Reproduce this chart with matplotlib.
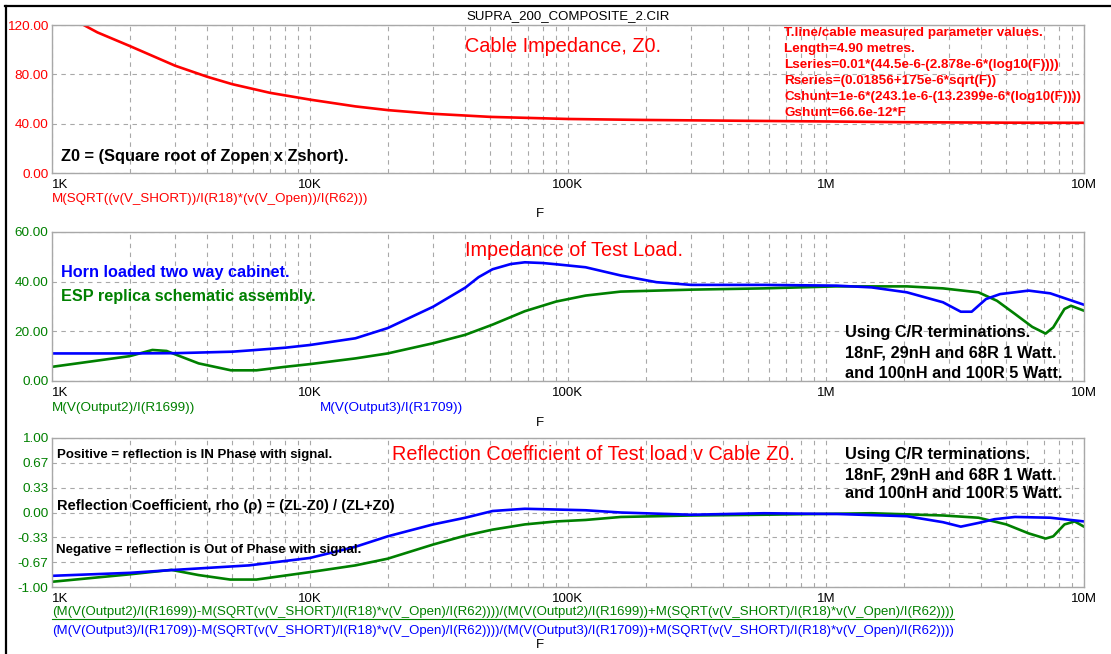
import matplotlib
matplotlib.use("Agg")
import matplotlib.pyplot as plt
from matplotlib.lines import Line2D

W, H = 1111, 654

# ---------------------------------------------------------------------
# values
# ---------------------------------------------------------------------
f_z0 = [1e3, 1.3e3, 1.5e3, 2e3, 3e3, 4e3, 5e3, 7e3, 10e3, 15e3, 20e3, 30e3,
        50e3, 100e3, 200e3, 500e3, 1e6, 2e6, 5e6, 10e6]
z0 = [132, 121, 114, 103, 87, 78, 72, 65, 59.5, 54, 51, 48,
      45.5, 43.8, 43.0, 42.3, 41.8, 41.2, 40.8, 40.7]

f_horn = [1e3, 2e3, 3e3, 5e3, 6e3, 8e3, 10e3, 15e3, 20e3, 30e3, 40e3, 45e3,
          51e3, 60e3, 68e3, 80e3, 90e3, 117e3, 160e3, 220e3, 300e3, 575e3,
          1.1e6, 1.5e6, 2.06e6, 2.84e6, 3.33e6, 3.67e6, 4.17e6, 4.73e6, 6.1e6,
          7.4e6, 10e6]
horn = [11.1, 11.1, 11.2, 11.8, 12.4, 13.4, 14.5, 17.2, 21.3, 29.9, 37.6, 41.8,
        45.0, 47.1, 47.8, 47.5, 47.0, 45.8, 42.5, 39.8, 38.7, 38.7,
        38.4, 37.7, 35.7, 31.7, 27.9, 27.9, 33.0, 35.0, 36.4,
        35.3, 30.7]

f_esp = [1e3, 2e3, 2.45e3, 2.78e3, 3.06e3, 3.7e3, 4.94e3, 6.2e3, 8e3, 10e3,
         15e3, 20e3, 30e3, 40e3, 51e3, 68e3, 90e3, 117e3, 160e3, 304e3, 575e3,
         1.09e6, 2.06e6, 2.84e6, 3.9e6, 4.6e6, 5.4e6, 6.3e6, 7.1e6, 7.6e6,
         8.4e6, 8.9e6, 10e6]
esp = [5.7, 10.0, 12.5, 12.1, 10.4, 7.1, 4.3, 4.3, 5.7, 6.8,
       9.1, 11.1, 15.2, 18.6, 22.7, 28.1, 32.0, 34.4, 36.0, 36.8, 37.3,
       38.1, 38.1, 37.3, 35.7, 32.3, 27.0, 21.8, 19.1, 21.6,
       29.0, 30.3, 28.3]

f_rho_horn = [1e3, 2e3, 3e3, 5.8e3, 10e3, 15e3, 20e3, 30e3, 40e3, 51e3, 68e3,
              90e3, 117e3, 160e3, 300e3, 575e3, 1.1e6, 2.06e6, 2.84e6, 3.33e6,
              3.9e6, 4.5e6, 5.4e6, 7.4e6, 10e6]
rho_horn = [-0.85, -0.81, -0.77, -0.71, -0.61, -0.46, -0.32, -0.16, -0.07, 0.02,
            0.05, 0.04, 0.03, 0.0, -0.03, -0.01, -0.02, -0.05, -0.13, -0.19,
            -0.14, -0.09, -0.06, -0.07, -0.12]

f_rho_esp = [1e3, 2e3, 2.9e3, 3.7e3, 4.9e3, 6.2e3, 10e3, 15e3, 20e3, 30e3,
             40e3, 51e3, 68e3, 90e3, 117e3, 160e3, 300e3, 575e3, 1.5e6, 2.84e6,
             3.9e6, 5e6, 6.1e6, 7.1e6, 7.6e6, 8.4e6, 9.2e6, 10e6]
rho_esp = [-0.93, -0.83, -0.77, -0.84, -0.90, -0.90, -0.80, -0.71, -0.62, -0.43,
           -0.31, -0.23, -0.16, -0.12, -0.10, -0.06, -0.04, -0.03, -0.01, -0.04,
           -0.07, -0.16, -0.28, -0.35, -0.32, -0.16, -0.12, -0.19]

x_ticks = [1e3, 1e4, 1e5, 1e6, 1e7]
x_labels = ["1K", "10K", "100K", "1M", "10M"]
y1_ticks = [0, 40, 80, 120]
y2_ticks = [0, 20, 40, 60]
y3_ticks = [-1, -2 / 3, -1 / 3, 0, 1 / 3, 2 / 3, 1]
y3_labels = ["-1.00", "-0.67", "-0.33", "0.00", "0.33", "0.67", "1.00"]

params = [
    "T.line/cable measured parameter values.",
    "Length=4.90 metres.",
    "Lseries=0.01*(44.5e-6-(2.878e-6*(log10(F))))",
    "Rseries=(0.01856+175e-6*sqrt(F))",
    "Cshunt=1e-6*(243.1e-6-(13.2399e-6*(log10(F))))",
    "Gshunt=66.6e-12*F",
]
terminations = [
    "Using C/R terminations.",
    "18nF, 29nH and 68R 1 Watt.",
    "and 100nH and 100R 5 Watt.",
]

RED = "#ff0000"
GREEN = "#008000"
BLUE = "#0000ff"
GRID = "#a8a8a8"

plt.rcParams["font.family"] = ["Liberation Sans", "DejaVu Sans"]

fig = plt.figure(figsize=(W / 100, H / 100), dpi=100)
fig.patch.set_facecolor("white")


def fx(x):
    return x / W


def fy(y):
    return 1 - y / H


def label(x, y, s, **kw):
    kw.setdefault("ha", "left")
    kw.setdefault("va", "center")
    return fig.text(fx(x), fy(y), s, **kw)


def make_axes(top, bottom, yticks, ylabels, ycol):
    ax = fig.add_axes([fx(52), fy(bottom), (1084 - 52) / W, (bottom - top) / H])
    ax.set_xscale("log")
    ax.set_xlim(1e3, 1e7)
    ax.set_ylim(yticks[0], yticks[-1])
    ax.set_xticks(x_ticks)
    ax.set_xticklabels(x_labels)
    ax.set_xticks([m * d for d in x_ticks[:-1] for m in range(2, 10)], minor=True)
    ax.set_yticks(yticks)
    ax.set_yticklabels(ylabels)
    ax.tick_params(which="both", length=0)
    ax.tick_params(axis="x", labelsize=9.5, pad=4, colors="black")
    ax.tick_params(axis="y", labelsize=9.7, pad=2.5, labelcolor=ycol)
    ax.get_xticklabels()[0].set_ha("left")
    ax.grid(which="both", axis="x", color=GRID, lw=0.8, ls=(0, (4, 4)))
    ax.grid(which="major", axis="y", color=GRID, lw=0.8, ls=(0, (4, 4)))
    for sp in ax.spines.values():
        sp.set_color(GRID)
        sp.set_linewidth(1.0)
    return ax


# panel 1: cable impedance
ax1 = make_axes(25, 173, y1_ticks, ["%.2f" % v for v in y1_ticks], RED)
ax1.plot(f_z0, z0, color=RED, lw=1.9)

# panel 2: load impedance
ax2 = make_axes(232, 381, y2_ticks, ["%.2f" % v for v in y2_ticks], GREEN)
ax2.plot(f_esp, esp, color=GREEN, lw=1.9)
ax2.plot(f_horn, horn, color=BLUE, lw=1.9)

# panel 3: reflection coefficient
ax3 = make_axes(438, 587, y3_ticks, y3_labels, GREEN)
ax3.plot(f_rho_esp, rho_esp, color=GREEN, lw=1.9)
ax3.plot(f_rho_horn, rho_horn, color=BLUE, lw=1.9)

# window frame
fig.add_artist(Line2D([fx(5), 1], [fy(6), fy(6)], color="black", lw=1.6))
fig.add_artist(Line2D([fx(6), fx(6)], [fy(6), 0], color="black", lw=1.6))

label(466, 16, "SUPRA_200_COMPOSITE_2.CIR", fontsize=9.5)

# panel 1 texts
label(465, 46, "Cable Impedance, Z0.", fontsize=14.3, color=RED)
for i, s in enumerate(params):
    label(784, 33 + i * 16.1, s, fontsize=9.7, fontweight="bold", color=RED)
label(61, 157, "Z0 = (Square root of Zopen x Zshort).", fontsize=11.8,
      fontweight="bold")
label(52, 199, "M(SQRT((v(V_SHORT))/I(R18)*(v(V_Open))/I(R62)))", fontsize=9.6,
      color=RED)
label(540, 214, "F", fontsize=9.5, ha="center")

# panel 2 texts
label(465, 251, "Impedance of Test Load.", fontsize=14.3, color=RED)
label(61, 272, "Horn loaded two way cabinet.", fontsize=11.7, fontweight="bold",
      color=BLUE)
label(61, 296, "ESP replica schematic assembly.", fontsize=11.7,
      fontweight="bold", color=GREEN)
for i, s in enumerate(terminations):
    label(845, 333 + i * 20, s, fontsize=11.8, fontweight="bold")
label(52, 408, "M(V(Output2)/I(R1699))", fontsize=9.7, color=GREEN)
label(320, 408, "M(V(Output3)/I(R1709))", fontsize=9.7, color=BLUE)
label(540, 423, "F", fontsize=9.5, ha="center")

# panel 3 texts
label(392, 455, "Reflection Coefficient of Test load v Cable Z0.", fontsize=14.3,
      color=RED)
label(57, 455, "Positive = reflection is IN Phase with signal.", fontsize=9.5,
      fontweight="bold")
label(57, 506, "Reflection Coefficient, rho (\u03c1) = (ZL-Z0) / (ZL+Z0)",
      fontsize=10.5, fontweight="bold")
label(56, 550, "Negative = reflection is Out of Phase with signal.",
      fontsize=9.5, fontweight="bold")
for i, s in enumerate(terminations):
    label(845, 455 + i * 19.5, s, fontsize=11.8, fontweight="bold")

sq = "M(SQRT(v(V_SHORT)/I(R18)*v(V_Open)/I(R62)))"
g_txt = label(52, 612, "(M(V(Output2)/I(R1699))-%s)/(M(V(Output2)/I(R1699))+%s)"
              % (sq, sq), fontsize=9.5, color=GREEN)
label(52, 631, "(M(V(Output3)/I(R1709))-%s)/(M(V(Output3)/I(R1709))+%s)"
      % (sq, sq), fontsize=9.5, color=BLUE)
label(540, 645, "F", fontsize=9.5, ha="center")

# underline the green expression
fig.canvas.draw()
bb = g_txt.get_window_extent()
fig.add_artist(Line2D([bb.x0 / W, bb.x1 / W], [(bb.y0 - 1) / H, (bb.y0 - 1) / H],
                      color=GREEN, lw=0.8))

fig.savefig("out.png", dpi=100, facecolor="white")
